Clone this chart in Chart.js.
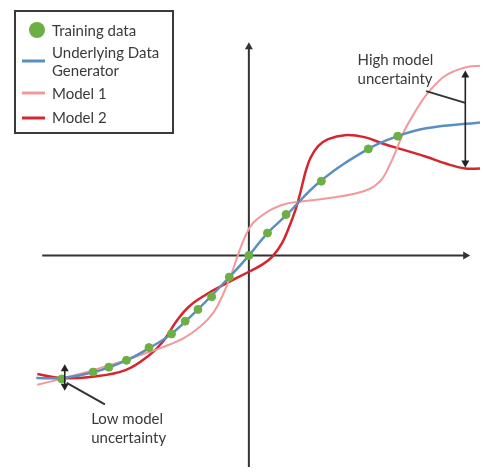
<!DOCTYPE html>
<html>
<head>
<meta charset="utf-8">
<script src="https://cdn.jsdelivr.net/npm/chart.js@4.4.1/dist/chart.umd.min.js"></script>
<style>
body{margin:0;background:#fff;}
#wrap{width:485px;height:472px;position:relative;}
</style>
</head>
<body>
<div id="wrap"><canvas id="chart"></canvas></div>
<script>

/* DATA */

const trainX=[-19.1,-15.9,-14.3,-12.5,-10.2,-7.9,-6.5,-5.2,-3.8,-2.0,0,1.9,3.8,7.4,12.2,15.2];
const trainY=[-12.6,-11.9,-11.4,-10.7,-9.4,-8.0,-6.7,-5.5,-4.2,-2.2,0,2.3,4.2,7.6,10.9,12.2];

const genX=[-21.7,-19.0,-15.8,-12.5,-10.1,-7.9,-5.2,-1.9,0,1.9,3.8,7.3,12.2,15.2,18.1,23.6];
const genY=[-12.5,-12.5,-11.9,-10.7,-9.4,-8.0,-5.5,-2.1,0,2.3,4.1,7.6,10.9,12.2,13.0,13.6];

const model1X=[-21.6,-19.2,-16.9,-14.9,-12.9,-10.9,-8.9,-6.6,-4.9,-3.6,-2.7,-1.9,-1.1,-0.4,0.4,2.1,3.8,5.1,8.4,11.8,13.4,14.4,15.1,15.8,16.8,18.1,19.8,21.1,22.4,23.6];
const model1Y=[-13.2,-12.6,-12.0,-11.4,-10.8,-10.1,-9.4,-8.4,-7.2,-5.8,-4.1,-2.2,0.1,1.9,3.3,4.6,5.3,5.5,5.9,6.6,7.6,9.3,10.9,12.6,14.4,16.4,18.2,18.9,19.3,19.4];

const model2X=[-21.6,-19.2,-16.2,-12.6,-10.2,-8.7,-7.4,-6.1,-4.4,-2.4,0.1,1.4,2.4,3.4,4.1,4.8,5.3,5.8,6.3,7.1,8.1,9.8,11.8,13.8,15.8,18.1,20.1,22.1,23.6];
const model2Y=[-12.1,-12.5,-12.4,-11.7,-10.2,-8.7,-6.7,-5.2,-4.0,-2.9,-1.6,-0.9,-0.1,1.3,2.9,4.8,6.6,8.6,10.0,11.2,11.9,12.3,12.1,11.4,10.8,10.1,9.4,8.9,8.9];

const labels=["Training data","Underlying Data Generator","Model 1","Model 2"];
const legendLines=[["Training data"],["Underlying Data","Generator"],["Model 1"],["Model 2"]];

/* AXES AND NOTES */

const axisX=[-21.1,22.6];
const axisY=[-21.6,21.8];

const highArrow={x:22.1,y1:18.9,y2:9.0};
const highLeader=[[18.1,16.8],[22.1,15.6]];
const highText={x:11.1,y:[20.0,18.0],lines:["High model","uncertainty"]};

const lowArrow={x:-18.8,y1:-11.1,y2:-13.8};
const lowLeader=[[-18.6,-13.0],[-14.7,-15.2]];
const lowText={x:-16.1,y:[-16.7,-18.7],lines:["Low model","uncertainty"]};

const colors=["#6cb043","#5a8fc2","#f3999b","#d3262e"];

function pts(xs,ys){
return xs.map((x,i)=>({x:x,y:ys[i]}));
}

function arrowHead(ctx,x,y,dir){
/* dir: angle of pointing direction */
ctx.save();
ctx.translate(x,y);
ctx.rotate(dir);
ctx.beginPath();
ctx.moveTo(0,0);
ctx.lineTo(-7,-4);
ctx.lineTo(-7,4);
ctx.closePath();
ctx.fill();
ctx.restore();
}

/* DRAWING PLUGIN */

const drawPlugin={
id:"drawPlugin",

beforeDatasetsDraw(chart){
const ctx=chart.ctx;
const sx=chart.scales.x, sy=chart.scales.y;
const x0=sx.getPixelForValue(0), y0=sy.getPixelForValue(0);
ctx.save();
ctx.strokeStyle="#333";
ctx.fillStyle="#333";
ctx.lineWidth=2;
ctx.beginPath();
ctx.moveTo(sx.getPixelForValue(axisX[0]),y0);
ctx.lineTo(sx.getPixelForValue(axisX[1])-5,y0);
ctx.stroke();
arrowHead(ctx,sx.getPixelForValue(axisX[1]),y0,0);
ctx.beginPath();
ctx.moveTo(x0,sy.getPixelForValue(axisY[0]));
ctx.lineTo(x0,sy.getPixelForValue(axisY[1])+5);
ctx.stroke();
arrowHead(ctx,x0,sy.getPixelForValue(axisY[1]),-Math.PI/2);
ctx.restore();
},

afterDraw(chart){
const ctx=chart.ctx;
const sx=chart.scales.x, sy=chart.scales.y;
ctx.save();

/* uncertainty arrows */
ctx.strokeStyle="#222";
ctx.fillStyle="#222";
ctx.lineWidth=1.6;
[highArrow,lowArrow].forEach(a=>{
const px=sx.getPixelForValue(a.x);
const p1=sy.getPixelForValue(a.y1), p2=sy.getPixelForValue(a.y2);
ctx.beginPath();
ctx.moveTo(px,p1+4);
ctx.lineTo(px,p2-4);
ctx.stroke();
arrowHead(ctx,px,p1,-Math.PI/2);
arrowHead(ctx,px,p2,Math.PI/2);
});
ctx.strokeStyle="#333";
ctx.lineWidth=2;
[highLeader,lowLeader].forEach(l=>{
ctx.beginPath();
ctx.moveTo(sx.getPixelForValue(l[0][0]),sy.getPixelForValue(l[0][1]));
ctx.lineTo(sx.getPixelForValue(l[1][0]),sy.getPixelForValue(l[1][1]));
ctx.stroke();
});

/* notes */
ctx.font="15px Lato, 'Liberation Sans', sans-serif";
ctx.fillStyle="#3a3a3a";
ctx.textBaseline="middle";
ctx.textAlign="left";
[highText,lowText].forEach(t=>{
t.lines.forEach((s,i)=>{
ctx.fillText(s,sx.getPixelForValue(t.x),sy.getPixelForValue(t.y[i]));
});
});

/* legend box */
const bx=15, by=11, bw=158, bh=122;
ctx.fillStyle="#fff";
ctx.fillRect(bx,by,bw,bh);
ctx.strokeStyle="#3a3a3a";
ctx.lineWidth=2;
ctx.strokeRect(bx,by,bw,bh);

const rows=[31,53,94,118];
const markY=[30,61,93,118];
legendLines.forEach((lines,i)=>{
if(i===0){
ctx.fillStyle=colors[0];
ctx.beginPath();
ctx.arc(37,markY[i],8,0,Math.PI*2);
ctx.fill();
}else{
ctx.strokeStyle=colors[i];
ctx.lineWidth=3;
ctx.beginPath();
ctx.moveTo(22,markY[i]);
ctx.lineTo(45,markY[i]);
ctx.stroke();
}
ctx.fillStyle="#3a3a3a";
lines.forEach((s,j)=>{
ctx.fillText(s,52,rows[i]+j*18);
});
});

ctx.restore();
}
};

/* CREATE CHART */

new Chart(document.getElementById("chart"),{
type:"scatter",
data:{
datasets:[
{label:labels[0],data:pts(trainX,trainY),backgroundColor:colors[0],borderColor:colors[0],pointRadius:4,showLine:false},
{label:labels[1],data:pts(genX,genY),borderColor:colors[1],borderWidth:2.5,pointRadius:0,showLine:true,tension:0.4},
{label:labels[2],data:pts(model1X,model1Y),borderColor:colors[2],borderWidth:2,pointRadius:0,showLine:true,tension:0.4},
{label:labels[3],data:pts(model2X,model2Y),borderColor:colors[3],borderWidth:2.5,pointRadius:0,showLine:true,tension:0.4}
]
},
options:{
responsive:true,
maintainAspectRatio:false,
animation:false,
layout:{padding:0},
plugins:{legend:{display:false},tooltip:{enabled:false}},
scales:{
x:{type:"linear",min:-24.9,max:23.6,display:false},
y:{type:"linear",min:-21.6,max:25.6,display:false}
}
},
plugins:[drawPlugin]
});

</script>
</body>
</html>
